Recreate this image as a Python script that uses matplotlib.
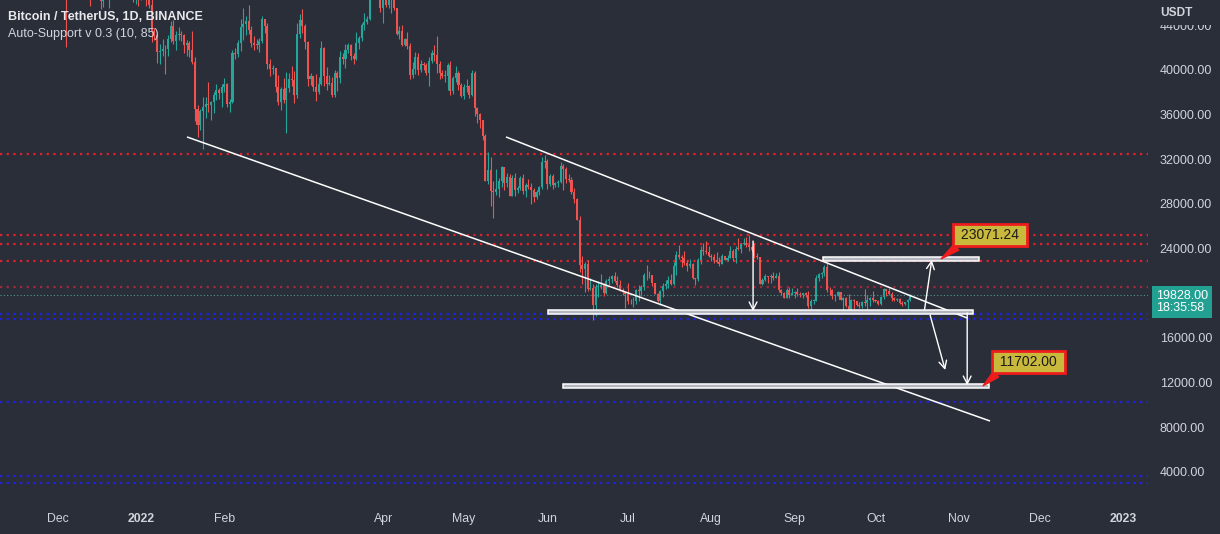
import numpy as np
import pandas as pd
import matplotlib
matplotlib.use("Agg")
import matplotlib.pyplot as plt
import matplotlib.dates as mdates
import matplotlib.transforms as mtransforms
from matplotlib.patches import Rectangle

plt.rcParams['font.family'] = ['Liberation Sans', 'DejaVu Sans']

# ---------------- data (BTC/USDT daily, from 2021-12-01) ----------------
start_date = "2021-12-01"

opens = [
    # Dec 2021
    56950, 57180, 56480, 53600, 49150, 49400, 50440, 50590, 50470, 47550, 47140, 49390, 50050, 46700, 48340, 48860,
    47630, 46130, 46830, 46680, 46910, 48890, 48590, 50840, 50820, 50400, 50780, 50700, 47540, 46460, 47120,
    # Jan 2022
    46220, 47720, 47290, 46450, 45830, 43450, 43080, 41570, 41680, 41860, 41820, 42740, 43950, 42590, 43100, 43180,
    43110, 42250, 42380, 41740, 40680, 36450, 35070, 36280, 36650, 36950, 36850, 37140, 37710, 38150, 37920,
    # Feb
    38480, 38740, 36950, 37150, 41500, 41410, 42380, 43840, 44120, 44340, 43570, 42410, 42240, 42200, 42590, 44580,
    43960, 40540, 40030, 40120, 38430, 37080, 38290, 37300, 38330, 39210, 39110, 37710,
    # Mar
    43180, 44420, 43890, 42450, 39150, 39400, 38420, 37990, 38730, 41940, 39420, 38730, 38810, 37780, 39670, 39280,
    41110, 40920, 41760, 42200, 41260, 41000, 42360, 42880, 43990, 44310, 44510, 46830, 47120, 47430, 47070,
    # Apr
    45510, 46280, 45810, 46410, 46580, 45500, 43170, 43440, 42250, 42750, 42160, 39530, 40070, 41150, 39940, 40550,
    40380, 39680, 40800, 41490, 41360, 40480, 39710, 39440, 39450, 40430, 38110, 39240, 39740, 38600,
    # May
    37630, 38470, 38530, 37730, 39690, 36550, 36010, 35470, 34040, 30080, 31020, 29100, 29030, 29290, 30070, 31310,
    29860, 30430, 28720, 30320, 29200, 29450, 30290, 29110, 29650, 29540, 29200, 28630, 29030, 29470, 31730,
    # Jun
    31800, 29810, 30450, 29700, 29860, 29920, 31370, 31130, 30200, 30110, 29090, 28420, 26570, 22490, 22140, 22580,
    20400, 20470, 18970, 20570, 20570, 20720, 19990, 21110, 21240, 21490, 21040, 20740, 20280, 20120,
    # Jul
    19940, 19280, 19250, 19320, 20240, 20180, 20560, 21620, 21590, 21590, 20860, 19960, 19330, 20230, 20590, 20830,
    21200, 20800, 22430, 23400, 23220, 23150, 22680, 22450, 22580, 21310, 21250, 22950, 23840, 23770, 23640,
    # Aug
    23290, 23270, 22990, 22820, 22620, 23310, 22950, 23180, 23810, 23150, 23950, 23930, 24400, 24440, 24310, 24090,
    23850, 23340, 23190, 20830, 21140, 21520, 21400, 21530, 21370, 21560, 20240, 20040, 19560, 20290, 19810,
    # Sep
    20050, 20130, 19950, 19830, 19990, 19810, 18840, 19290, 19330, 21380, 21680, 21770, 22370, 20300, 20240, 19700,
    19800, 20110, 19420, 19540, 18880, 18480, 19400, 19290, 18920, 18810, 19230, 19080, 19410, 19590,
    # Oct
    19420, 19310, 19060, 19630, 20340, 20160, 19960, 19530, 19420, 19450, 19140, 19050, 19160, 19380,
]

highs = [
    59050, 57380, 57600, 53900, 49700, 50950, 51940, 51200, 50800, 50100, 49490, 50800, 50200, 48700, 49500, 49440,
    47990, 47300, 48300, 47540, 49330, 49580, 51380, 51860, 51160, 51280, 52090, 50700, 48140, 47900, 48550,
    47950, 47990, 47570, 47510, 47070, 43750, 43150, 42300, 42790, 42250, 43100, 44350, 44460, 43450, 43800, 43480,
    43200, 42690, 42580, 43510, 41100, 36840, 36500, 37550, 37550, 38920, 37230, 38000, 38720, 38360, 38740,
    39270, 38850, 37390, 41770, 41940, 42660, 44500, 45490, 44800, 45820, 43920, 43000, 42760, 42880, 44770, 44580,
    44200, 40960, 40450, 40150, 39490, 38430, 39250, 39840, 39730, 40300, 39880, 44230,
    44950, 45400, 44100, 42530, 39690, 39430, 39580, 39370, 42590, 42040, 40240, 39490, 39310, 39940, 39870, 41720,
    41480, 42330, 42400, 42300, 41540, 43360, 43020, 44220, 45090, 44810, 46990, 48190, 48100, 47700, 47600,
    46720, 47210, 47440, 46890, 47200, 45500, 43900, 43970, 42800, 43410, 42420, 40700, 41560, 41500, 40890, 40710,
    40600, 41100, 41760, 42200, 42980, 40800, 39980, 39940, 40620, 40800, 39470, 40370, 39920, 38800,
    38680, 39170, 38630, 40020, 39850, 36680, 36130, 35500, 34250, 32660, 32190, 30030, 31080, 30340, 31420, 31310,
    30790, 30700, 30550, 30780, 29600, 30480, 30680, 29840, 30220, 29870, 29400, 29260, 29560, 32220, 32400,
    31980, 30690, 30690, 29950, 30150, 31770, 31560, 31330, 30700, 30390, 29440, 28550, 26900, 23360, 22800, 22980,
    21370, 20790, 20820, 21080, 21720, 20900, 21230, 21560, 21610, 21870, 21520, 21200, 20430, 20180,
    20880, 19430, 19650, 20350, 20760, 20680, 21840, 22530, 21950, 21600, 20880, 20050, 20260, 20880, 21200, 21560,
    21690, 22780, 23800, 24280, 23440, 23760, 23000, 23010, 22660, 21350, 23110, 24200, 24440, 24670, 24190,
    23510, 23460, 23650, 23220, 23460, 23350, 23400, 24250, 23930, 24230, 24920, 24460, 24890, 25050, 25210, 24250,
    24450, 23600, 23200, 21380, 21700, 21520, 21680, 21900, 21820, 21870, 20350, 20140, 20420, 20580, 20490,
    20200, 20440, 20060, 20000, 20060, 20180, 19460, 19450, 21600, 21800, 21860, 22490, 22800, 20500, 20380, 19890,
    20190, 20110, 19690, 19630, 19950, 19490, 19500, 19310, 19180, 19320, 20390, 19790, 19650, 20190,
    19480, 19400, 19720, 20480, 20370, 20460, 20060, 19630, 19560, 19530, 19270, 19220, 19510, 19950,
]

lows = [
    56460, 55840, 51680, 42000, 47730, 47100, 50040, 48600, 47330, 46850, 46650, 48640, 45670, 46300, 46550, 47510,
    45460, 45580, 46410, 45560, 46630, 48420, 47920, 50450, 50170, 49410, 50450, 47310, 46100, 45900, 45680,
    46210, 46650, 45700, 45500, 42500, 42650, 40610, 40500, 41200, 39650, 41270, 42450, 42310, 41730, 42650, 42590,
    41540, 41250, 41140, 40550, 35440, 34010, 34600, 32920, 35700, 36200, 35510, 36160, 37300, 37350, 36630,
    38000, 36630, 36250, 37050, 40960, 41120, 41650, 42670, 43120, 43190, 42000, 41750, 41870, 41570, 42430, 43310,
    40070, 39450, 39640, 38020, 36800, 36350, 37040, 34320, 38010, 38570, 37000, 37450,
    42810, 43330, 41830, 38550, 38650, 38090, 37160, 37870, 38660, 38540, 38220, 38660, 37580, 37560, 38100, 38830,
    40500, 40140, 41500, 40910, 40500, 40880, 41850, 42570, 43580, 44070, 44420, 46660, 46950, 46540, 45200,
    44200, 45630, 45520, 45120, 45350, 43120, 42730, 42110, 42130, 41870, 39200, 39250, 39590, 39550, 39770, 39990,
    39550, 38540, 40570, 40820, 39750, 39180, 39290, 38930, 38200, 37700, 37870, 38880, 38180, 37580,
    37390, 38050, 37500, 37670, 35860, 35260, 34790, 33710, 30030, 29730, 27790, 26700, 28750, 28610, 29460, 29190,
    29470, 28660, 28670, 28730, 28950, 29240, 28900, 28600, 29290, 28020, 28200, 28450, 28810, 29300, 31200,
    29300, 29590, 29280, 29480, 29490, 29890, 29220, 29850, 29940, 28850, 28100, 26560, 21930, 20850, 20110, 20230,
    20250, 17620, 17960, 19640, 20350, 19770, 19890, 20740, 20910, 21000, 20510, 20200, 19850, 18630,
    18980, 18980, 18780, 19000, 19300, 19770, 20240, 21180, 21320, 20650, 19880, 19240, 18910, 19620, 20380, 20480,
    20760, 20760, 21580, 23010, 22340, 22500, 21950, 22260, 21250, 20710, 21040, 22580, 23410, 23500, 23230,
    22850, 22650, 22680, 22430, 22590, 22920, 22840, 23150, 22860, 22660, 23860, 23580, 24290, 24150, 23770, 23690,
    23180, 23080, 20780, 20760, 21070, 20890, 20890, 21160, 21310, 20110, 19800, 19520, 19550, 19540, 19800,
    19570, 19750, 19650, 19600, 19640, 18680, 18540, 19020, 19300, 21100, 21360, 21560, 20080, 19860, 19500, 19320,
    19760, 19340, 18230, 18740, 18130, 18360, 18530, 18810, 18630, 18680, 18820, 18470, 18840, 19160,
    19160, 18920, 18960, 19500, 19730, 19850, 19320, 19330, 19320, 19030, 18860, 18970, 18190, 19290,
]

closes = [
    57180, 56480, 53600, 49150, 49400, 50440, 50590, 50470, 47550, 47140, 49390, 50050, 46700, 48340, 48860, 47630,
    46130, 46830, 46680, 46910, 48890, 48590, 50840, 50820, 50400, 50780, 50700, 47540, 46460, 47120, 46220,
    47720, 47290, 46450, 45830, 43450, 43080, 41570, 41680, 41860, 41820, 42740, 43950, 42590, 43100, 43180, 43110,
    42250, 42380, 41740, 40680, 36450, 35070, 36280, 36650, 36950, 36850, 37140, 37710, 38150, 37920, 38480,
    38740, 36950, 37150, 41500, 41410, 42380, 43840, 44120, 44340, 43570, 42410, 42240, 42200, 42590, 44580, 43960,
    40540, 40030, 40120, 38430, 37080, 38290, 37300, 38330, 39210, 39110, 37710, 43180,
    44420, 43890, 42450, 39150, 39400, 38420, 37990, 38730, 41940, 39420, 38730, 38810, 37780, 39670, 39280, 41110,
    40920, 41760, 42200, 41260, 41000, 42360, 42880, 43990, 44310, 44510, 46830, 47120, 47430, 47070, 45510,
    46280, 45810, 46410, 46580, 45500, 43170, 43440, 42250, 42750, 42160, 39530, 40070, 41150, 39940, 40550, 40380,
    39680, 40800, 41490, 41360, 40480, 39710, 39440, 39450, 40430, 38110, 39240, 39740, 38600, 37630,
    38470, 38530, 37730, 39690, 36550, 36010, 35470, 34040, 30080, 31020, 29100, 29030, 29290, 30070, 31310, 29860,
    30430, 28720, 30320, 29200, 29450, 30290, 29110, 29650, 29540, 29200, 28630, 29030, 29470, 31730, 31800,
    29810, 30450, 29700, 29860, 29920, 31370, 31130, 30200, 30110, 29090, 28420, 26570, 22490, 22140, 22580, 20400,
    20470, 18970, 20570, 20570, 20720, 19990, 21110, 21240, 21490, 21040, 20740, 20280, 20120, 19940,
    19280, 19250, 19320, 20240, 20180, 20560, 21620, 21590, 21590, 20860, 19960, 19330, 20230, 20590, 20830, 21200,
    20800, 22430, 23400, 23220, 23150, 22680, 22450, 22580, 21310, 21250, 22950, 23840, 23770, 23640, 23290,
    23270, 22990, 22820, 22620, 23310, 22950, 23180, 23810, 23150, 23950, 23930, 24400, 24440, 24310, 24090, 23850,
    23340, 23190, 20830, 21140, 21520, 21400, 21530, 21370, 21560, 20240, 20040, 19560, 20290, 19810, 20050,
    20130, 19950, 19830, 19990, 19810, 18840, 19290, 19330, 21380, 21680, 21770, 22370, 20300, 20240, 19700, 19800,
    20110, 19420, 19540, 18880, 18480, 19400, 19290, 18920, 18810, 19230, 19080, 19410, 19590, 19420,
    19310, 19060, 19630, 20340, 20160, 19960, 19530, 19420, 19450, 19140, 19050, 19160, 19380, 19828,
]

# Indicator levels (Auto-Support)
red_levels = [32455, 25228, 24395, 22846]
dark_red_levels = [20571]
blue_levels = [18127, 17652, 10246, 3646, 2966]
last_price = 19828.0
countdown = "18:35:58"

# Drawings
upper_trend = [("2022-05-16 16:00", 33980), ("2022-11-04 02:00", 17770)]
lower_trend = [("2022-01-18 02:00", 33980), ("2022-11-12 14:00", 8545)]
zones = [
    ("2022-09-11 12:00", "2022-11-08 12:00", 23071.24),
    ("2022-06-01 07:00", "2022-11-06 07:00", 18330.0),
    ("2022-06-06 22:00", "2022-11-12 05:00", 11702.0),
]
arrows = [
    (("2022-08-16 12:00", 24660), ("2022-08-16 12:00", 18380)),
    (("2022-10-19 05:00", 18485), ("2022-10-21 22:00", 22960)),
    (("2022-10-21 07:00", 18040), ("2022-10-26 22:00", 13110)),
    (("2022-11-04 02:00", 18220), ("2022-11-04 02:00", 11750)),
]
callouts = [
    ("23071.24", ("2022-10-25 10:00", 23071.24), ("2022-11-12 14:00", 25200)),
    ("11702.00", ("2022-11-10 00:00", 11702.0), ("2022-11-26 17:00", 13830)),
]

price_ticks = [4000, 8000, 12000, 16000, 24000, 28000, 32000, 36000, 40000, 44000]
month_ticks = ["2021-12-01", "2022-01-01", "2022-02-01", "2022-04-01", "2022-05-01", "2022-06-01",
               "2022-07-01", "2022-08-01", "2022-09-01", "2022-10-01", "2022-11-01", "2022-12-01", "2023-01-01"]
month_labels = ["Dec", "2022", "Feb", "Apr", "May", "Jun", "Jul", "Aug", "Sep", "Oct", "Nov", "Dec", "2023"]
x_range = ("2021-11-09 14:00", "2023-01-10 07:00")
y_range = (1023, 46245)

title = "Bitcoin / TetherUS, 1D, BINANCE"
subtitle = "Auto-Support v 0.3 (10, 85)"

# ---------------- style ----------------
BG = "#2a2e39"
UP = "#26a69a"
DOWN = "#ef5350"
TXT = "#d1d4dc"
RED = "#e3202c"
DRED = "#a3283a"
BLUE = "#2121e6"

W, H = 1220, 534
fig = plt.figure(figsize=(W / 100, H / 100), dpi=100)
fig.patch.set_facecolor(BG)
ax = fig.add_axes([0, 1 - 505 / H, 1148 / W, 505 / H])
ax.set_facecolor(BG)
for s in ax.spines.values():
    s.set_visible(False)

D = mdates.datestr2num

# horizontal indicator levels
dot = (0, (1, 2))
for p in red_levels:
    ax.axhline(p, color=RED, lw=1.6, linestyle=dot, zorder=1)
for p in dark_red_levels:
    ax.axhline(p, color=DRED, lw=1.6, linestyle=dot, zorder=1)
for p in blue_levels:
    ax.axhline(p, color=BLUE, lw=1.6, linestyle=dot, zorder=1)
ax.axhline(last_price, color="#4f9a94", lw=0.8, linestyle=(0, (1, 2)), zorder=1)

# candles
dates = pd.date_range(start_date, periods=len(closes), freq="D")
x = mdates.date2num(dates)
o = np.array(opens, float)
h = np.array(highs, float)
l = np.array(lows, float)
c = np.array(closes, float)
cols = np.where(c >= o, UP, DOWN)
ax.vlines(x, l, h, colors=cols, lw=0.8, zorder=2)
ax.bar(x, np.maximum(np.abs(c - o), 70), bottom=np.minimum(o, c), width=0.76,
       color=cols, linewidth=0, zorder=3)

# trend lines
for (d1, p1), (d2, p2) in [upper_trend, lower_trend]:
    ax.plot([D(d1), D(d2)], [p1, p2], color="white", lw=1.1, zorder=5, solid_capstyle="butt")

# zones (flat rectangles)
half = 170
for d1, d2, p in zones:
    ax.add_patch(Rectangle((D(d1), p - half), D(d2) - D(d1), 2 * half,
                           facecolor="#b2b5be", edgecolor="white", lw=1.1, zorder=6))

# arrows
for (d1, p1), (d2, p2) in arrows:
    ax.annotate("", xy=(D(d2), p2), xytext=(D(d1), p1),
                arrowprops=dict(arrowstyle="->,head_length=0.55,head_width=0.28",
                                color="white", lw=1.0, shrinkA=0, shrinkB=0),
                zorder=7)

# callouts
for txt, (td, tp), (cd, cp) in callouts:
    ax.annotate(" " + txt + " ", xy=(D(td), tp), xytext=(D(cd), cp),
                ha="center", va="center", fontsize=10, color="#1b1b1b",
                bbox=dict(boxstyle="square,pad=0.3", fc="#c8b83c", ec="#ee1c1c", lw=2.0),
                arrowprops=dict(arrowstyle="wedge,tail_width=0.55,shrink_factor=0.5",
                                fc="#ee1c1c", ec="#ee1c1c", relpos=(0.12, 0.1),
                                shrinkA=0, shrinkB=0),
                annotation_clip=False, zorder=8)

ax.set_xlim(D(x_range[0]), D(x_range[1]))
ax.set_ylim(*y_range)

# axes ticks
ax.yaxis.tick_right()
ax.set_yticks(price_ticks)
ax.set_yticklabels([f"{v:.2f}" for v in price_ticks])
ax.tick_params(axis="y", length=0, pad=8.5, labelsize=9.0, labelcolor=TXT)
ax.set_xticks([D(m) for m in month_ticks])
ax.set_xticklabels(month_labels)
ax.tick_params(axis="x", length=0, pad=6, labelsize=8.8, labelcolor=TXT)
for lab in ax.get_xticklabels():
    if lab.get_text().isdigit():
        lab.set_fontweight("bold")

# titles
fig.text(8 / W, 1 - 17 / H, title, fontsize=9.0, fontweight="bold", color="#e8e9ec", va="center", ha="left")
fig.text(8 / W, 1 - 34 / H, subtitle, fontsize=9.0, color=TXT, va="center", ha="left")

# cover top of price scale + USDT label
fig.patches.append(Rectangle((1150 / W, 1 - 25 / H), 70 / W, 25 / H, transform=fig.transFigure,
                             facecolor=BG, edgecolor="none", zorder=5))
fig.text(1160 / W, 1 - 13 / H, "USDT", fontsize=8.6, fontweight="bold", color=TXT,
         va="center", ha="left", zorder=6)

# last price label
blend = mtransforms.blended_transform_factory(fig.transFigure, ax.transData)
ax.annotate(f"{last_price:.2f}\n{countdown}", xy=(1156 / W, last_price), xycoords=blend,
            xytext=(0, -5), textcoords="offset points", ha="left", va="center",
            fontsize=9.0, color="white", linespacing=1.05,
            bbox=dict(boxstyle="square,pad=0.32", fc="#22a193", ec="none"),
            annotation_clip=False, zorder=10)

fig.savefig("out.png", dpi=100, facecolor=BG)
